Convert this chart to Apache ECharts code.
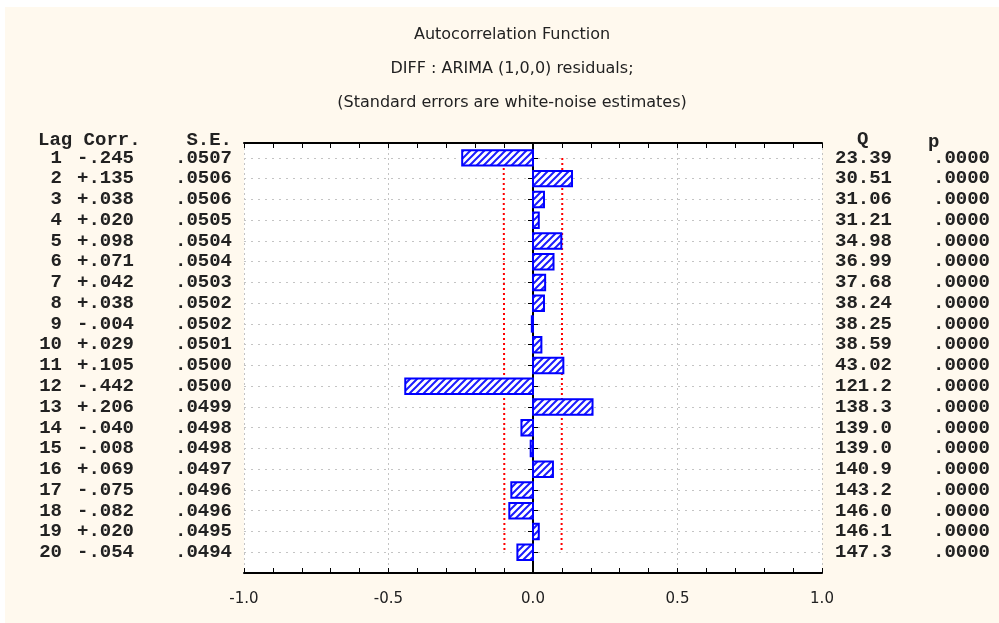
<!DOCTYPE html>
<html>
<head>
<meta charset="utf-8">
<script src="https://cdn.jsdelivr.net/npm/echarts@6/dist/echarts.min.js"></script>
<style>
  html, body { margin: 0; padding: 0; background: #fff; }
  #main { position: absolute; left: 5px; top: 7px; width: 994px; height: 616px; }
</style>
</head>
<body>
<div id="main"></div>
<script>
// ACF of residuals, lags 1..20
const lags = [1, 2, 3, 4, 5, 6, 7, 8, 9, 10, 11, 12, 13, 14, 15, 16, 17, 18, 19, 20];
const corr = [-0.245, 0.135, 0.038, 0.020, 0.098, 0.071, 0.042, 0.038, -0.004, 0.029,
              0.105, -0.442, 0.206, -0.040, -0.008, 0.069, -0.075, -0.082, 0.020, -0.054];
const stdErr = [0.0507, 0.0506, 0.0506, 0.0505, 0.0504, 0.0504, 0.0503, 0.0502, 0.0502, 0.0501,
                0.0500, 0.0500, 0.0499, 0.0498, 0.0498, 0.0497, 0.0496, 0.0496, 0.0495, 0.0494];
const qStat = ['23.39', '30.51', '31.06', '31.21', '34.98', '36.99', '37.68', '38.24', '38.25', '38.59',
               '43.02', '121.2', '138.3', '139.0', '139.0', '140.9', '143.2', '146.0', '146.1', '147.3'];
const pValue = ['.0000', '.0000', '.0000', '.0000', '.0000', '.0000', '.0000', '.0000', '.0000', '.0000',
                '.0000', '.0000', '.0000', '.0000', '.0000', '.0000', '.0000', '.0000', '.0000', '.0000'];
const xLabels = [-1.0, -0.5, 0.0, 0.5, 1.0];
const xTickMarks = [-1.0, -0.9, -0.8, -0.7, -0.6, -0.5, -0.4, -0.3, -0.2, -0.1, 0.0,
                    0.1, 0.2, 0.3, 0.4, 0.5, 0.6, 0.7, 0.8, 0.9, 1.0];

const mono = 'Liberation Mono';
const sans = 'DejaVu Sans';

// hatch fill for bars
const hatch = document.createElement('canvas');
hatch.width = 7; hatch.height = 7;
const hc = hatch.getContext('2d');
hc.fillStyle = '#fff';
hc.fillRect(0, 0, 7, 7);
hc.strokeStyle = '#1c1cff';
hc.lineWidth = 2;
hc.beginPath();
hc.moveTo(-1, 8); hc.lineTo(8, -1);
hc.moveTo(-8, 8); hc.lineTo(1, -1);
hc.moveTo(6, 8); hc.lineTo(15, -1);
hc.stroke();

const fmtCorr = (c) => (c < 0 ? '-' : '+') + Math.abs(c).toFixed(3).slice(1);
const fmtSe = (s) => s.toFixed(4).slice(1);

const monoText = { fontFamily: mono, fontWeight: 'bold', fontSize: 19, color: '#222' };
const monoFont = 'bold 19px "' + mono + '"';

const chart = echarts.init(document.getElementById('main'));

const frameAxisX = (pos) => ({
  type: 'value', position: pos, min: -1, max: 1,
  axisLine: { lineStyle: { color: '#000', width: 2 } },
  axisTick: { inside: true, length: 5, customValues: xTickMarks, lineStyle: { color: '#000' } },
  splitLine: { show: false }
});

const option = {
  backgroundColor: '#fff9ee',
  animation: false,
  title: {
    text: 'Autocorrelation Function\nDIFF : ARIMA (1,0,0) residuals;\n(Standard errors are white-noise estimates)',
    left: 502,
    top: 6,
    textAlign: 'center',
    textStyle: { fontFamily: sans, fontSize: 16, fontWeight: 'normal', color: '#222', lineHeight: 34 }
  },
  grid: {
    left: 239, top: 136, width: 578, height: 430,
    show: true, backgroundColor: '#fff', borderWidth: 0
  },
  xAxis: [
    Object.assign(frameAxisX('bottom'), {
      axisLabel: {
        customValues: xLabels, margin: 19, fontFamily: sans, fontSize: 15, color: '#222',
        formatter: (v) => v.toFixed(1)
      }
    }),
    Object.assign(frameAxisX('top'), { axisLabel: { show: false } }),
    {
      // vertical dotted grid only
      type: 'value', position: 'bottom', min: -1, max: 1, interval: 0.5,
      axisLine: { show: false }, axisTick: { show: false }, axisLabel: { show: false },
      splitLine: { show: true, lineStyle: { color: '#c4c4c4', type: [2, 3] } }
    }
  ],
  yAxis: [
    {
      type: 'value', position: 'left', inverse: true, min: 0.28, max: 21.0,
      axisLine: { show: true, lineStyle: { color: '#000', width: 2 } },
      axisTick: { show: true, inside: true, length: 5, customValues: lags, lineStyle: { color: '#000' } },
      splitLine: { show: true, lineStyle: { color: '#c4c4c4', type: [2, 5] } },
      axisLabel: {
        customValues: lags, margin: 12, align: 'right',
        formatter: (v) => {
          const i = Math.round(v) - 1;
          return '{a|' + lags[i] + '}{b|' + fmtCorr(corr[i]) + '}{c|' + fmtSe(stdErr[i]) + '}';
        },
        rich: {
          a: Object.assign({ width: 26, align: 'right' }, monoText),
          b: Object.assign({ width: 72, align: 'right' }, monoText),
          c: Object.assign({ width: 98, align: 'right' }, monoText)
        }
      }
    },
    {
      type: 'value', position: 'right', inverse: true, min: 0.28, max: 21.0,
      axisLine: { show: true, lineStyle: { color: '#000', width: 2 } },
      axisTick: { show: true, inside: true, length: 5, customValues: lags, lineStyle: { color: '#000' } },
      splitLine: { show: false },
      axisLabel: {
        customValues: lags, margin: 13, align: 'left',
        formatter: (v) => {
          const i = Math.round(v) - 1;
          return '{q|' + qStat[i] + '}{p|' + pValue[i] + '}';
        },
        rich: {
          q: Object.assign({ width: 60, align: 'left' }, monoText),
          p: Object.assign({ width: 95, align: 'right' }, monoText)
        }
      }
    }
  ],
  graphic: [
    { type: 'text', left: 33, top: 124, style: { text: 'Lag Corr.', font: monoFont, fill: '#222' } },
    { type: 'text', right: 994 - 227, top: 124, style: { text: 'S.E.', font: monoFont, fill: '#222' } },
    { type: 'text', left: 852, top: 123, style: { text: 'Q', font: monoFont, fill: '#222' } },
    { type: 'text', left: 923, top: 126, style: { text: 'p', font: monoFont, fill: '#222' } }
  ],
  series: [
    {
      type: 'custom',
      xAxisIndex: 0, yAxisIndex: 0,
      data: corr.map((c, i) => [c, lags[i]]),
      encode: { x: 0, y: 1 },
      z: 3,
      renderItem: (params, api) => {
        const lag = api.value(1);
        const p0 = api.coord([0, lag]);
        const p1 = api.coord([api.value(0), lag]);
        const h = api.size([0, 1])[1] * 0.74;
        return {
          type: 'rect',
          shape: { x: Math.min(p0[0], p1[0]), y: p0[1] - h / 2, width: Math.abs(p1[0] - p0[0]), height: h },
          style: { fill: { image: hatch, repeat: 'repeat' }, stroke: '#0000ff', lineWidth: 2 }
        };
      }
    },
    {
      type: 'line', xAxisIndex: 0, yAxisIndex: 0, symbol: 'none', z: 2,
      data: stdErr.map((s, i) => [2 * s, lags[i]]),
      lineStyle: { color: '#ff0000', width: 2, type: [2, 3] }
    },
    {
      type: 'line', xAxisIndex: 0, yAxisIndex: 0, symbol: 'none', z: 2,
      data: stdErr.map((s, i) => [-2 * s, lags[i]]),
      lineStyle: { color: '#ff0000', width: 2, type: [2, 3] }
    }
  ]
};

chart.setOption(option);
</script>
</body>
</html>
